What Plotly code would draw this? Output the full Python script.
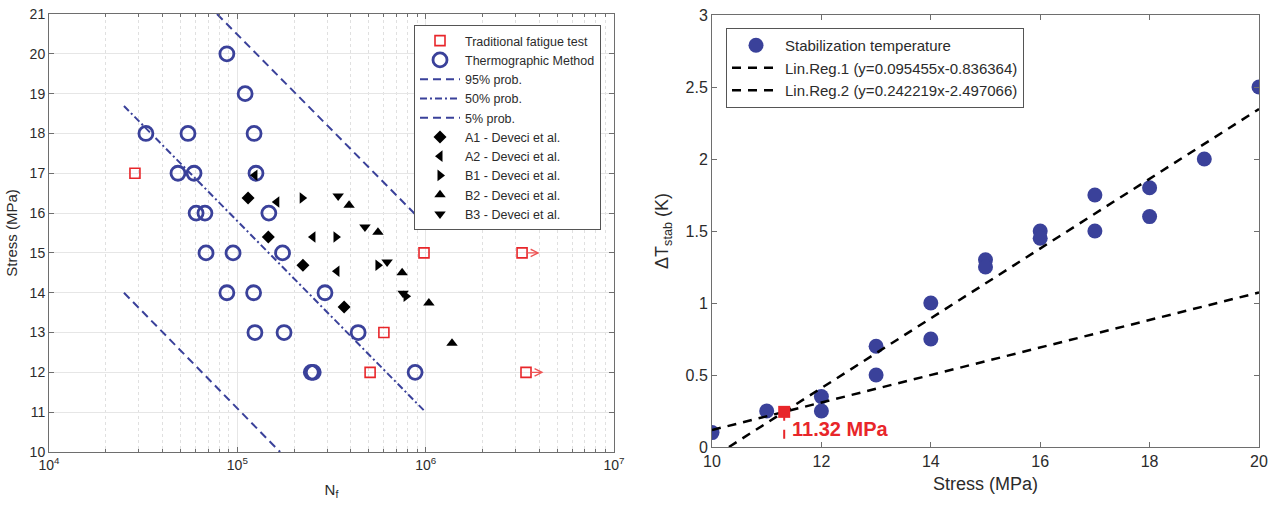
import math
import plotly.graph_objects as go

# ---------------- Left chart data (S-N) ----------------
trad_N = [2.86e4, 9.8e5, 3.25e6, 6.0e5, 5.07e5, 3.41e6]
trad_S = [17, 15, 15, 13, 12, 12]
runout_N = [3.25e6, 3.41e6]
runout_S = [15, 12]

thermo_N = [88000, 110000, 32700, 54700, 122700, 48400, 58900, 125600, 60400, 67300,
            147000, 68200, 94900, 173800, 88000, 122000, 292000, 124000, 177000, 438000,
            247000, 253000, 879000]
thermo_S = [20, 19, 18, 18, 18, 17, 17, 17, 16, 16,
            16, 15, 15, 15, 14, 14, 14, 13, 13, 13,
            12, 12, 12]

p95_N = [78000, 946000]
p95_S = [21.0, 15.82]
p50_N = [25000, 1.0e6]
p50_S = [18.69, 11.0]
p5_N = [25000, 168700]
p5_S = [14.0, 10.0]

a1_N = [114000, 146000, 223000, 369000]
a1_S = [16.38, 15.40, 14.69, 13.64]
a2_N = [124000, 162000, 252000, 338000]
a2_S = [16.95, 16.28, 15.40, 14.54]
b1_N = [221000, 334000, 558000, 787000]
b1_S = [16.38, 15.40, 14.69, 13.91]
b2_N = [392000, 558000, 750000, 1.04e6, 1.38e6]
b2_S = [16.20, 15.52, 14.50, 13.74, 12.73]
b3_N = [343000, 476000, 624000, 759000]
b3_S = [16.43, 15.65, 14.77, 13.99]

x_tickvals = [1e4, 1e5, 1e6, 1e7]
x_ticktext = ["10<sup>4</sup>", "10<sup>5</sup>", "10<sup>6</sup>", "10<sup>7</sup>"]

# ---------------- Right chart data ----------------
stress = [10, 11, 12, 12, 13, 13, 14, 14, 15, 15, 16, 16, 17, 17, 18, 18, 19, 20]
dT = [0.1, 0.25, 0.35, 0.25, 0.7, 0.5, 1.0, 0.75, 1.3, 1.25, 1.5, 1.45, 1.75, 1.5, 1.8, 1.6, 2.0, 2.5]
reg1_x = [10, 20]
reg1_y = [0.118, 1.073]
reg2_x = [10.31, 20]
reg2_y = [0.0, 2.347]
int_x = [11.32]
int_y = [0.244]
int_label = "11.32 MPa"

BLUE = "#3a419a"
RED = "#e8262a"
FONT = "Arial, Liberation Sans, sans-serif"
AXC = "#6e6e6e"
TXT = "#2b2b2b"

fig = go.Figure()

# Left traces
fig.add_trace(go.Scatter(x=trad_N, y=trad_S, mode="markers", name="Traditional fatigue test",
                         marker=dict(symbol="square-open", size=10, color=RED, line=dict(width=1.6, color=RED)),
                         xaxis="x", yaxis="y", legend="legend"))
fig.add_trace(go.Scatter(x=thermo_N, y=thermo_S, mode="markers", name="Thermographic Method",
                         marker=dict(symbol="circle-open", size=14, color=BLUE, line=dict(width=2.8, color=BLUE)),
                         xaxis="x", yaxis="y", legend="legend"))
fig.add_trace(go.Scatter(x=p95_N, y=p95_S, mode="lines", name="95% prob.",
                         line=dict(color=BLUE, width=2, dash="8px,5px"),
                         xaxis="x", yaxis="y", legend="legend"))
fig.add_trace(go.Scatter(x=p50_N, y=p50_S, mode="lines", name="50% prob.",
                         line=dict(color=BLUE, width=2, dash="7px,3px,2px,3px"),
                         xaxis="x", yaxis="y", legend="legend"))
fig.add_trace(go.Scatter(x=p5_N, y=p5_S, mode="lines", name="5% prob.",
                         line=dict(color=BLUE, width=2, dash="8px,5px"),
                         xaxis="x", yaxis="y", legend="legend"))
for nm, xs, ys, sym, sz in [("A1 - Deveci et al.", a1_N, a1_S, "diamond", 10),
                            ("A2 - Deveci et al.", a2_N, a2_S, "triangle-left", 10),
                            ("B1 - Deveci et al.", b1_N, b1_S, "triangle-right", 10),
                            ("B2 - Deveci et al.", b2_N, b2_S, "triangle-up", 10),
                            ("B3 - Deveci et al.", b3_N, b3_S, "triangle-down", 10)]:
    fig.add_trace(go.Scatter(x=xs, y=ys, mode="markers", name=nm,
                             marker=dict(symbol=sym, size=sz, color="black"),
                             xaxis="x", yaxis="y", legend="legend"))

# Right traces
fig.add_trace(go.Scatter(x=stress, y=dT, mode="markers", name="Stabilization temperature",
                         marker=dict(symbol="circle", size=15, color=BLUE),
                         xaxis="x2", yaxis="y2", legend="legend2"))
fig.add_trace(go.Scatter(x=reg1_x, y=reg1_y, mode="lines", name="Lin.Reg.1 (y=0.095455x-0.836364)",
                         line=dict(color="black", width=2.5, dash="9px,7px"),
                         xaxis="x2", yaxis="y2", legend="legend2"))
fig.add_trace(go.Scatter(x=reg2_x, y=reg2_y, mode="lines", name="Lin.Reg.2 (y=0.242219x-2.497066)",
                         line=dict(color="black", width=2.5, dash="9px,7px"),
                         xaxis="x2", yaxis="y2", legend="legend2"))
fig.add_trace(go.Scatter(x=[int_x[0], int_x[0]], y=[int_y[0], 0], mode="lines", showlegend=False,
                         line=dict(color=RED, width=2, dash="9px,9px"),
                         xaxis="x2", yaxis="y2"))
fig.add_trace(go.Scatter(x=int_x, y=int_y, mode="markers", showlegend=False,
                         marker=dict(symbol="square", size=12, color=RED),
                         xaxis="x2", yaxis="y2"))

annotations = []
for n, s in zip(runout_N, runout_S):
    annotations.append(dict(x=math.log10(n), y=s, xref="x", yref="y", ax=19, ay=0,
                            showarrow=True, arrowside="start", arrowhead=5, startarrowhead=5,
                            arrowwidth=1.2, arrowsize=1.2, startarrowsize=1.2,
                            arrowcolor="#ee5555", standoff=5, text=""))
annotations.append(dict(x=int_x[0], y=int_y[0], xref="x2", yref="y2", text="<b>" + int_label + "</b>",
                        showarrow=False, xanchor="left", yanchor="middle", xshift=6, yshift=-17,
                        font=dict(color=RED, size=20, family=FONT)))

axis_common = dict(showline=True, linecolor=AXC, linewidth=1, mirror="ticks", ticks="inside",
                   tickcolor=AXC, ticklen=5, zeroline=False, automargin=False)

fig.update_layout(
    width=1281, height=506,
    margin=dict(l=0, r=0, t=0, b=0),
    paper_bgcolor="white", plot_bgcolor="white",
    font=dict(family=FONT, color=TXT),
    xaxis=dict(domain=[49/1281, 614/1281], type="log", range=[4, 7],
               tickvals=x_tickvals, ticktext=x_ticktext,
               showgrid=True, gridcolor="#e6e6e6", gridwidth=1,
               minor=dict(showgrid=True, gridcolor="#e0e0e0", griddash="dot", ticks="inside",
                          ticklen=3, tickcolor=AXC, dtick="D1"),
               tickfont=dict(family=FONT, size=14, color=TXT),
               title=dict(text="N<sub>f</sub>", font=dict(family=FONT, size=15, color=TXT), standoff=12),
               **axis_common),
    yaxis=dict(domain=[1 - 452/506, 1 - 14/506], range=[10, 21], dtick=1,
               showgrid=True, gridcolor="#e6e6e6", gridwidth=1,
               tickfont=dict(family=FONT, size=14, color=TXT),
               title=dict(text="Stress (MPa)", font=dict(family=FONT, size=15, color=TXT), standoff=8),
               anchor="x", **axis_common),
    xaxis2=dict(domain=[712/1281, 1259/1281], range=[10, 20], dtick=2, showgrid=False,
                tickfont=dict(family=FONT, size=16, color=TXT),
                title=dict(text="Stress (MPa)", font=dict(family=FONT, size=18, color=TXT), standoff=8),
                anchor="y2", **axis_common),
    yaxis2=dict(domain=[1 - 447/506, 1 - 15/506], range=[0, 3], dtick=0.5, showgrid=False,
                tickfont=dict(family=FONT, size=16, color=TXT),
                title=dict(text="ΔT<sub>stab</sub> (K)", font=dict(family=FONT, size=18, color=TXT), standoff=12),
                anchor="x2", **axis_common),
    legend=dict(x=414/1281, y=1 - 25/506, xanchor="left", yanchor="top",
                bgcolor="white", bordercolor="#555555", borderwidth=1,
                font=dict(family=FONT, size=12.5, color=TXT), tracegroupgap=0, itemwidth=40),
    legend2=dict(x=726/1281, y=1 - 28/506, xanchor="left", yanchor="top",
                 bgcolor="white", bordercolor="#555555", borderwidth=1,
                 font=dict(family=FONT, size=15, color=TXT), tracegroupgap=0, itemwidth=48),
    annotations=annotations,
    showlegend=True,
)

fig.write_html("out.html", config={"displayModeBar": False},
               post_script="document.body.style.margin='0';")
